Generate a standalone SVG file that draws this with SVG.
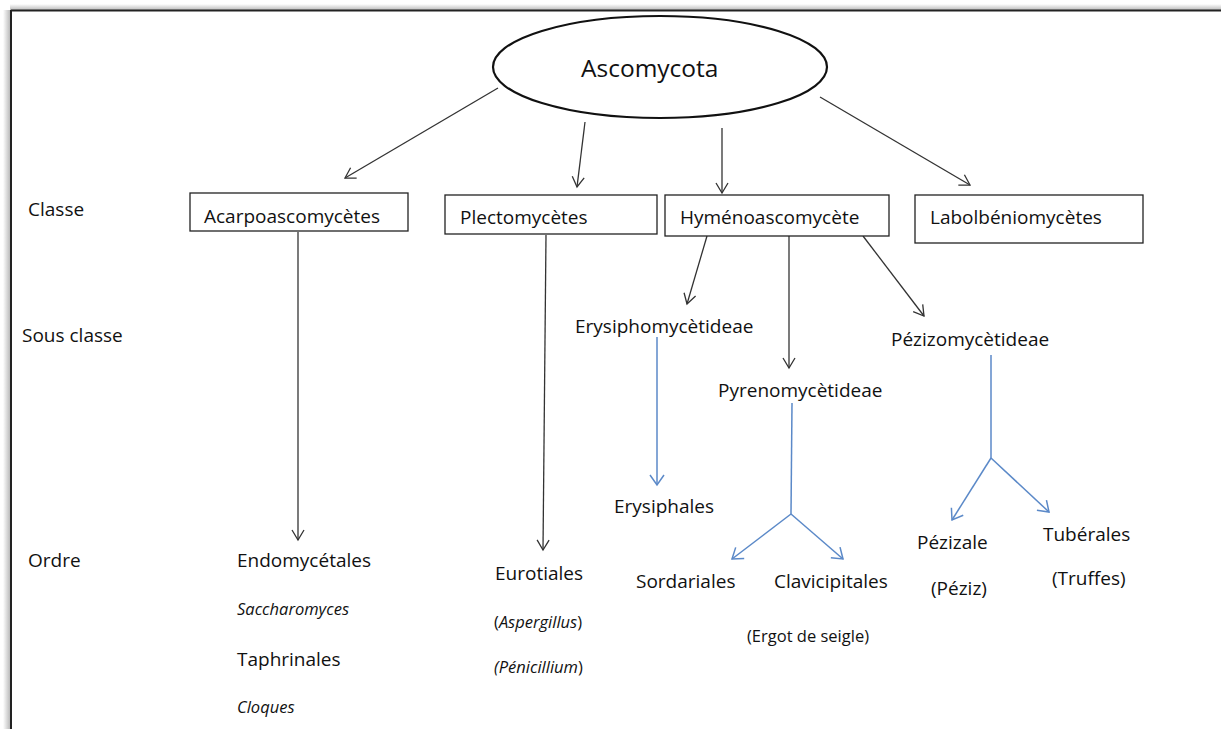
<svg xmlns="http://www.w3.org/2000/svg" width="1221" height="729" viewBox="0 0 1221 729">
<style>
  text{font-family:"Open Sans","Noto Sans","Liberation Sans",sans-serif;fill:#111;font-size:19px}
  .sm{font-size:16.5px}
  .it{font-style:italic}
  .box{fill:#fff;stroke:#222;stroke-width:1.3}
  .k{stroke:#333;stroke-width:1.3;fill:none}
  .b{stroke:#5b89c8;stroke-width:1.5;fill:none}
</style>
<defs>
  <marker id="ak" markerUnits="userSpaceOnUse" markerWidth="14" markerHeight="14" refX="11" refY="7" orient="auto" viewBox="0 0 14 14">
    <path d="M1,1 L11,7 L1,13" fill="none" stroke="#333" stroke-width="1.3"/>
  </marker>
  <marker id="ab" markerUnits="userSpaceOnUse" markerWidth="14" markerHeight="16" refX="11" refY="8" orient="auto" viewBox="0 0 14 16">
    <path d="M1,1 L11,8 L1,15" fill="none" stroke="#5b89c8" stroke-width="1.5"/>
  </marker>
  <linearGradient id="shL" x1="0" x2="1" y1="0" y2="0">
    <stop offset="0" stop-color="#fff"/><stop offset="1" stop-color="#bbb"/>
  </linearGradient>
  <linearGradient id="shT" x1="0" x2="0" y1="0" y2="1">
    <stop offset="0" stop-color="#fff"/><stop offset="1" stop-color="#bbb"/>
  </linearGradient>
</defs>
<rect width="1221" height="729" fill="#fff"/>
<g id="frame">
  <rect x="3" y="10" width="7" height="719" fill="url(#shL)"/>
  <rect x="10" y="4" width="1211" height="6" fill="url(#shT)"/>
  <line x1="11" y1="10.5" x2="1221" y2="10.5" stroke="#222" stroke-width="2"/>
  <line x1="11" y1="10" x2="11" y2="729" stroke="#222" stroke-width="2"/>
</g>
<g id="levels">
  <text x="28" y="216">Classe</text>
  <text x="22" y="342">Sous classe</text>
  <text x="28" y="567">Ordre</text>
</g>
<g id="connectors">
  <line class="k" x1="498" y1="88" x2="345" y2="178" marker-end="url(#ak)"/>
  <line class="k" x1="585" y1="122" x2="577" y2="187" marker-end="url(#ak)"/>
  <line class="k" x1="722" y1="128" x2="722" y2="193" marker-end="url(#ak)"/>
  <line class="k" x1="820" y1="97" x2="970" y2="185" marker-end="url(#ak)"/>
  <line class="k" x1="298" y1="232" x2="298" y2="540" marker-end="url(#ak)"/>
  <line class="k" x1="546" y1="235" x2="543" y2="550" marker-end="url(#ak)"/>
  <line class="k" x1="707" y1="236" x2="687" y2="304" marker-end="url(#ak)"/>
  <line class="k" x1="789" y1="236" x2="789" y2="368" marker-end="url(#ak)"/>
  <line class="k" x1="863" y1="236" x2="924" y2="316" marker-end="url(#ak)"/>
  <line class="b" x1="657" y1="337" x2="657" y2="485" marker-end="url(#ab)"/>
  <line class="b" x1="792" y1="403" x2="791" y2="514"/>
  <line class="b" x1="791" y1="514" x2="732" y2="559" marker-end="url(#ab)"/>
  <line class="b" x1="791" y1="514" x2="843" y2="559" marker-end="url(#ab)"/>
  <line class="b" x1="991" y1="355" x2="991" y2="458"/>
  <line class="b" x1="991" y1="458" x2="952" y2="520" marker-end="url(#ab)"/>
  <line class="b" x1="991" y1="458" x2="1049" y2="512" marker-end="url(#ab)"/>
</g>
<g id="ascomycota">
  <ellipse cx="660" cy="67" rx="167" ry="51" fill="#fff" stroke="#111" stroke-width="2.2"/>
  <text x="581" y="77" style="font-size:24.5px">Ascomycota</text>
</g>
<g id="acarpoascomycetes">
  <rect class="box" x="190" y="193" width="218" height="38"/>
  <text x="204" y="223">Acarpoascomycètes</text>
</g>
<g id="plectomycetes">
  <rect class="box" x="445" y="195" width="212" height="39"/>
  <text x="460" y="224">Plectomycètes</text>
</g>
<g id="hymenoascomycete">
  <rect class="box" x="665" y="195" width="224" height="41"/>
  <text x="680" y="224">Hyménoascomycète</text>
</g>
<g id="labolbeniomycetes">
  <rect class="box" x="915" y="195" width="228" height="48"/>
  <text x="930" y="224">Labolbéniomycètes</text>
</g>
<g id="erysiphomycetideae"><text x="575" y="333">Erysiphomycètideae</text></g>
<g id="pyrenomycetideae"><text x="718" y="397">Pyrenomycètideae</text></g>
<g id="pezizomycetideae"><text x="891" y="346">Pézizomycètideae</text></g>
<g id="endomycetales">
  <text x="237" y="567">Endomycétales</text>
  <text x="237" y="615" class="sm it">Saccharomyces</text>
  <text x="237" y="666">Taphrinales</text>
  <text x="237" y="713" class="sm it">Cloques</text>
</g>
<g id="eurotiales">
  <text x="495" y="580">Eurotiales</text>
  <text x="494" y="628" class="sm">(<tspan class="it">Aspergillus</tspan>)</text>
  <text x="494" y="673" class="sm"><tspan class="it">(Pénicillium</tspan>)</text>
</g>
<g id="erysiphales"><text x="614" y="513">Erysiphales</text></g>
<g id="sordariales"><text x="636" y="588">Sordariales</text></g>
<g id="clavicipitales">
  <text x="774" y="588">Clavicipitales</text>
  <text x="747" y="642" class="sm">(Ergot de seigle)</text>
</g>
<g id="pezizale">
  <text x="917" y="549">Pézizale</text>
  <text x="931" y="595">(Péziz)</text>
</g>
<g id="tuberales">
  <text x="1043" y="541">Tubérales</text>
  <text x="1052" y="585">(Truffes)</text>
</g>
</svg>
